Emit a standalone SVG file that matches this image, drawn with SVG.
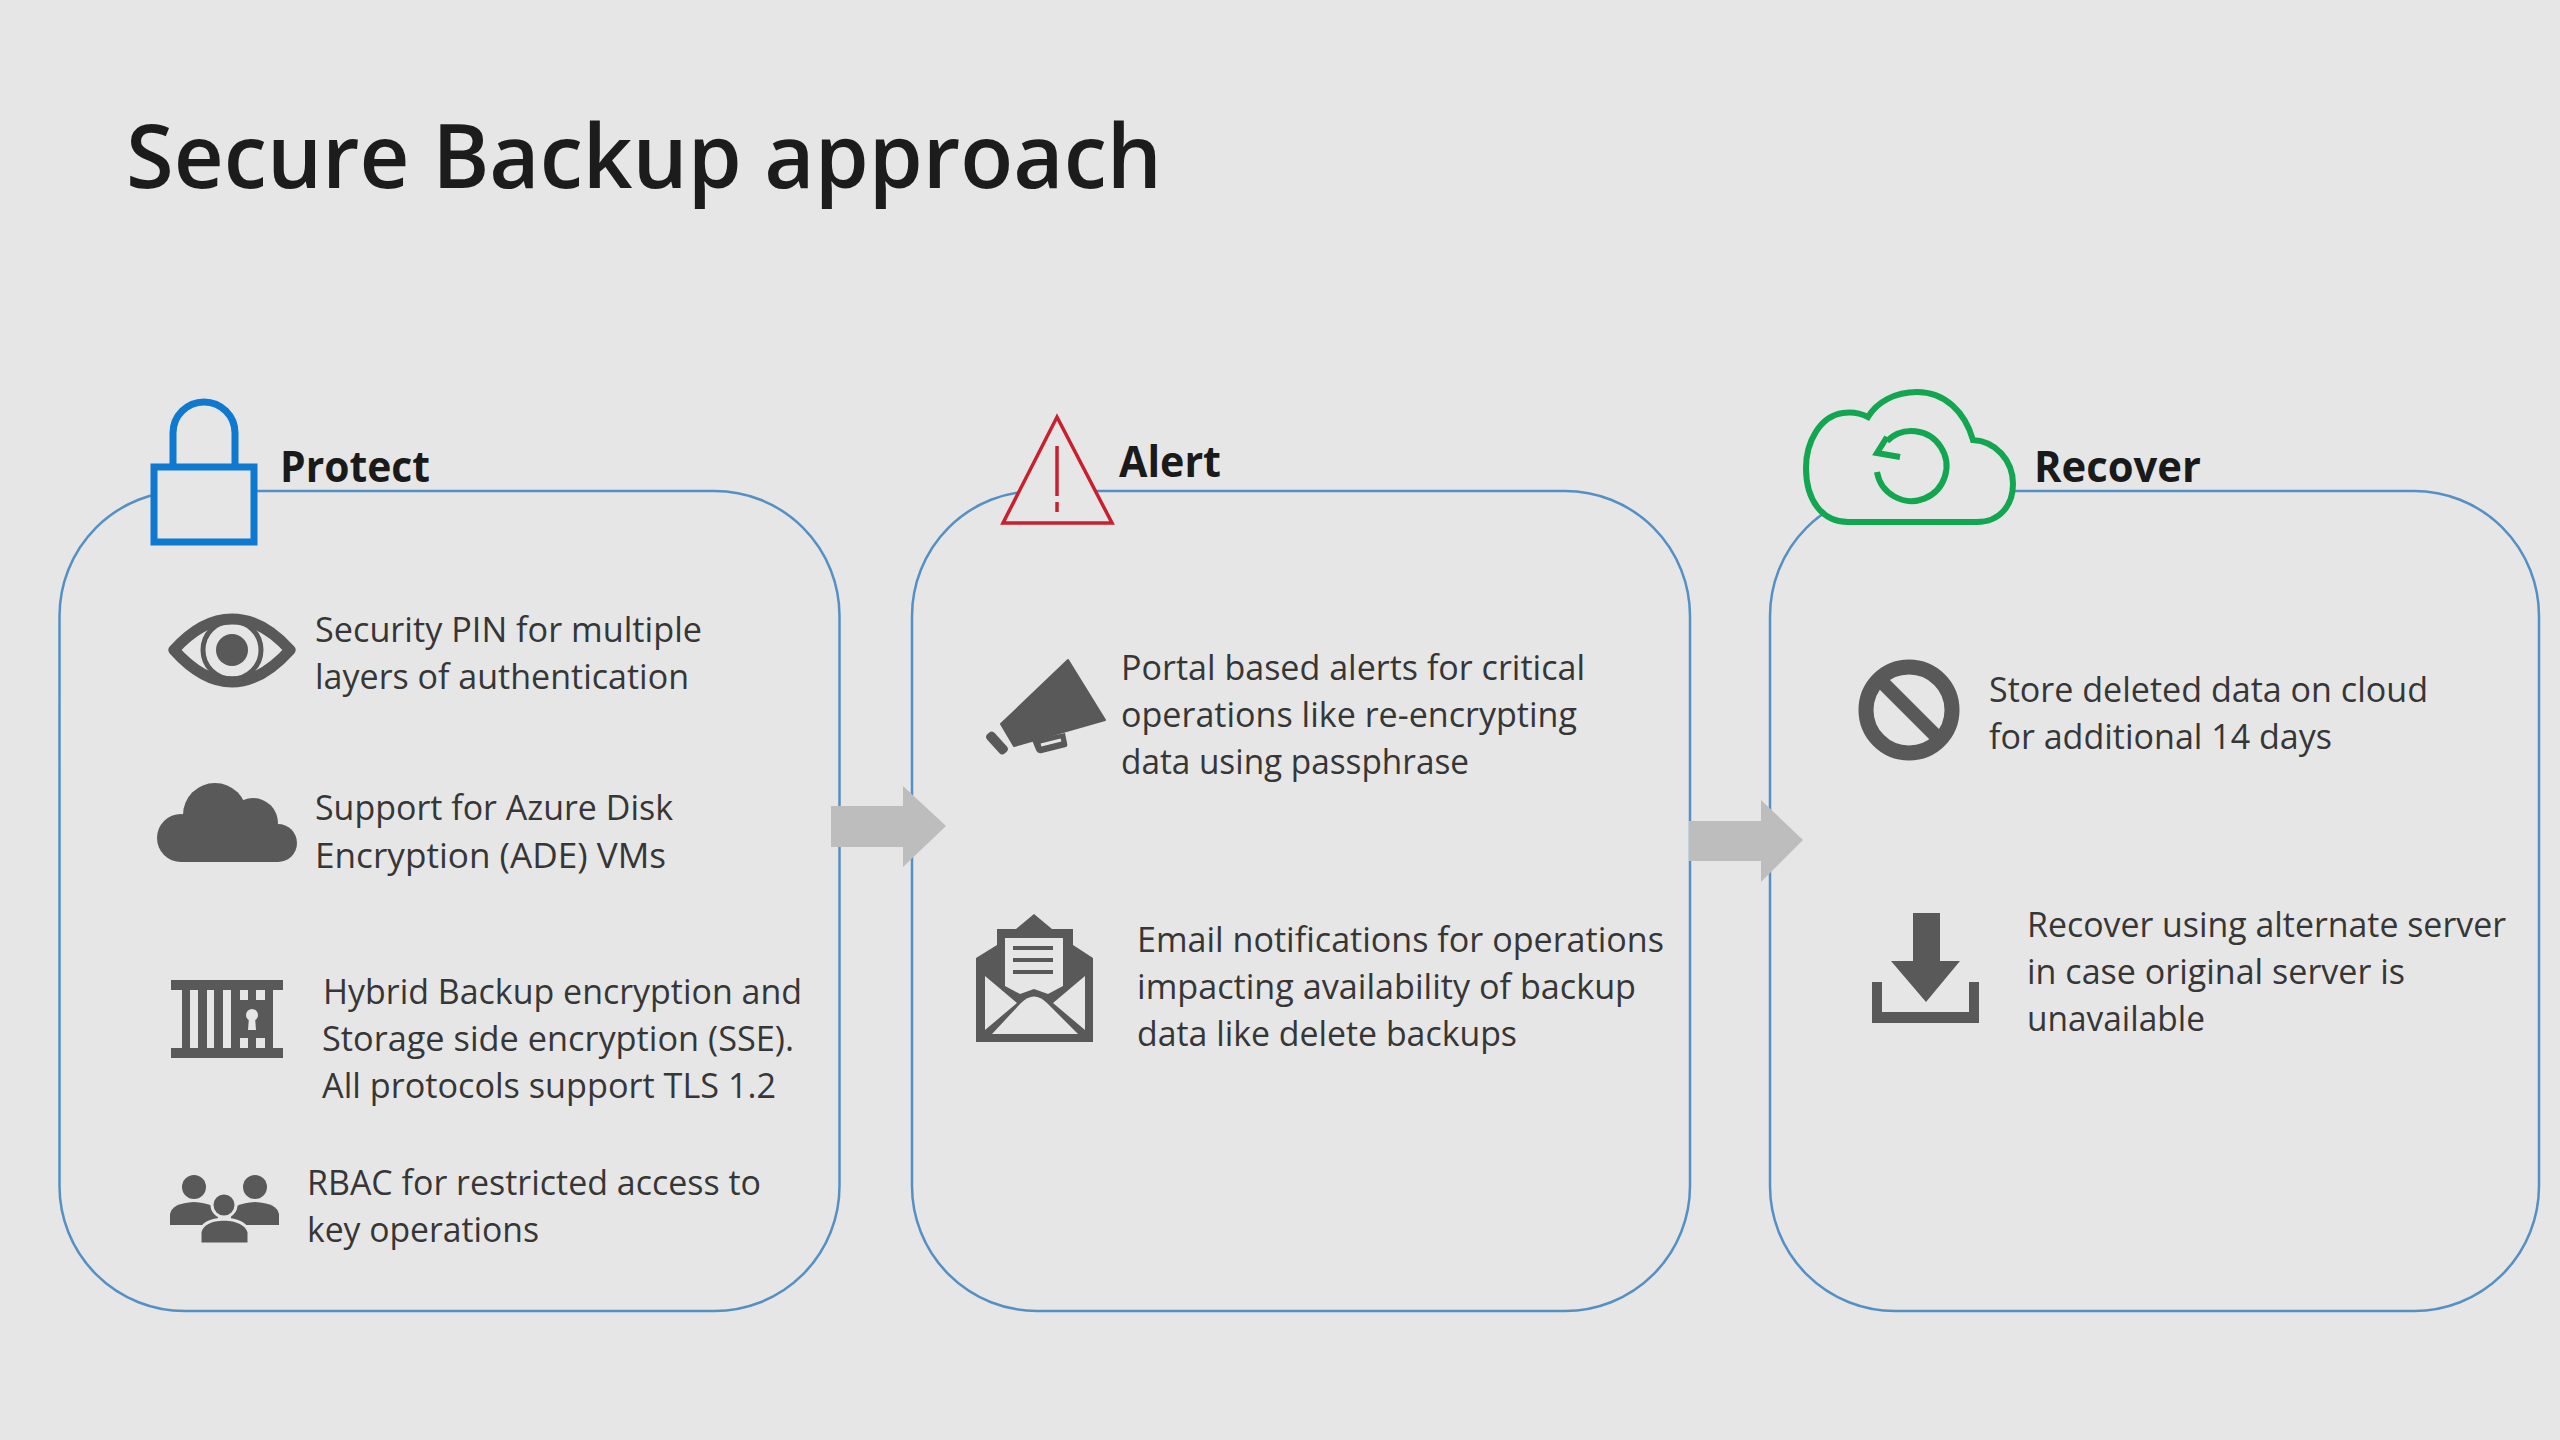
<svg xmlns="http://www.w3.org/2000/svg" width="2560" height="1440" viewBox="0 0 2560 1440">
<style>
.panel{fill:none;stroke:#5590c4;stroke-width:2.5}
.arrow{fill:#bdbdbd}
.t{font-family:"Open Sans","Noto Sans","Liberation Sans",sans-serif;font-size:35px;fill:#363636}
.h{font-family:"Open Sans","Noto Sans","Liberation Sans",sans-serif;font-size:43px;font-weight:700;fill:#1a1a1a}
.title{font-family:"Open Sans","Noto Sans","Liberation Sans",sans-serif;font-size:88px;font-weight:600;fill:#1c1c1c}
.ic{fill:#595959}
.bg{fill:#e6e6e6}
</style>
<rect width="2560" height="1440" fill="#e6e6e6"/>
<text class="title" x="126" y="188" textLength="1036" lengthAdjust="spacingAndGlyphs">Secure Backup approach</text>
<g id="panels">
<rect class="panel" x="59.500" y="491" width="780" height="820" rx="125" ry="125"/>
<rect class="panel" x="912" y="491" width="778" height="820" rx="125" ry="125"/>
<rect class="panel" x="1770" y="491" width="769" height="820" rx="125" ry="125"/>
</g>
<g id="connectors">
<polygon class="arrow" points="831,806 903,806 903,786 946,826 903,867 903,847 831,847"/>
<polygon class="arrow" points="1689,821 1761,821 1761,800 1803,840 1761,882 1761,861 1689,861"/>
</g>
<g id="protect">
<path d="M173 464V433a31 31 0 0 1 62 0V464" fill="none" stroke="#0f78cf" stroke-width="7"/>
<rect x="154" y="467" width="100" height="75" fill="#e6e6e6" stroke="#0f78cf" stroke-width="7"/>
<text class="h" x="280" y="482" textLength="150" lengthAdjust="spacingAndGlyphs">Protect</text>
</g>
<g id="pin">
<path d="M174 650C192 630 212 619 232 619C252 619 272 630 290 650C272 670 252 682 232 682C212 682 192 670 174 650Z" fill="#e6e6e6" stroke="#595959" stroke-width="11" stroke-linejoin="round"/>
<circle cx="232" cy="650" r="29" fill="none" stroke="#595959" stroke-width="5"/>
<circle class="ic" cx="232" cy="650" r="16"/>
<text class="t" x="315" y="642" textLength="387" lengthAdjust="spacingAndGlyphs">Security PIN for multiple</text>
<text class="t" x="315" y="689" textLength="374" lengthAdjust="spacingAndGlyphs">layers of authentication</text>
</g>
<g id="ade">
<circle class="ic" cx="181" cy="838" r="24"/><circle class="ic" cx="215" cy="815" r="32"/><circle class="ic" cx="253" cy="823" r="25"/><circle class="ic" cx="278" cy="843" r="19"/>
<rect class="ic" x="180" y="825" width="98" height="37"/>
<text class="t" x="315" y="820" textLength="358" lengthAdjust="spacingAndGlyphs">Support for Azure Disk</text>
<text class="t" x="315" y="868" textLength="351" lengthAdjust="spacingAndGlyphs">Encryption (ADE) VMs</text>
</g>
<g id="sse">
<rect class="ic" x="171" y="980" width="112" height="10"/><rect class="ic" x="171" y="1048" width="112" height="10"/>
<rect class="ic" x="182" y="988" width="91" height="62"/>
<g class="bg"><rect x="190" y="990" width="8" height="58"/><rect x="207" y="990" width="7" height="58"/><rect x="223" y="990" width="8" height="58"/>
<rect x="240" y="990" width="8" height="10"/><rect x="256" y="990" width="9" height="10"/><rect x="240" y="1038" width="8" height="10"/><rect x="256" y="1038" width="9" height="10"/>
<circle cx="252" cy="1015" r="6"/><polygon points="249,1017 255,1017 256,1030 248,1030"/></g>
<text class="t" x="323" y="1004" textLength="479" lengthAdjust="spacingAndGlyphs">Hybrid Backup encryption and</text>
<text class="t" x="322" y="1051" textLength="472" lengthAdjust="spacingAndGlyphs">Storage side encryption (SSE).</text>
<text class="t" x="322" y="1098" textLength="454" lengthAdjust="spacingAndGlyphs">All protocols support TLS 1.2</text>
</g>
<g id="rbac">
<circle class="ic" cx="194" cy="1187" r="12"/><circle class="ic" cx="255" cy="1187" r="12"/>
<path class="ic" d="M170 1225V1214Q172 1203 194 1202Q216 1203 218 1214V1225Z"/><path class="ic" d="M231 1225V1214Q233 1203 255 1202Q277 1203 279 1214V1225Z"/>
<circle class="ic" cx="224" cy="1205" r="12" stroke="#e6e6e6" stroke-width="3"/>
<path class="ic" d="M200 1244V1232Q203 1220 224 1219Q245 1220 249 1232V1244Z" stroke="#e6e6e6" stroke-width="3"/>
<text class="t" x="307" y="1195" textLength="454" lengthAdjust="spacingAndGlyphs">RBAC for restricted access to</text>
<text class="t" x="307" y="1242" textLength="232" lengthAdjust="spacingAndGlyphs">key operations</text>
</g>
<g id="alert">
<polygon points="1057,417 1112,523 1003,523" fill="#e6e6e6" stroke="#c8202e" stroke-width="3.500"/>
<line x1="1057" y1="446" x2="1057" y2="496" stroke="#c8202e" stroke-width="3.500"/>
<line x1="1057" y1="502" x2="1057" y2="512" stroke="#c8202e" stroke-width="3.500"/>
<text class="h" x="1119" y="477" textLength="102" lengthAdjust="spacingAndGlyphs">Alert</text>
</g>
<g id="portal">
<polygon class="ic" points="1068,660 1105,720 1014,746 1001,724" stroke="#595959" stroke-width="2" stroke-linejoin="round"/>
<path class="ic" d="M1032 740L1036 750Q1038 754 1042 753L1066 747Q1068 746 1067 743L1065 733Z"/>
<path d="M1041 745L1061 740" stroke="#e6e6e6" stroke-width="3"/>
<rect class="ic" x="-13" y="-5" width="26" height="10" rx="4" transform="translate(997 743) rotate(48)"/>
<text class="t" x="1121" y="680" textLength="464" lengthAdjust="spacingAndGlyphs">Portal based alerts for critical</text>
<text class="t" x="1121" y="727" textLength="456" lengthAdjust="spacingAndGlyphs">operations like re-encrypting</text>
<text class="t" x="1121" y="774" textLength="348" lengthAdjust="spacingAndGlyphs">data using passphrase</text>
</g>
<g id="email">
<polygon class="ic" points="1034,914 1052,929 1073,929 1073,945 1093,958 1093,1042 976,1042 976,958 997,945 997,929 1016,929"/>
<polygon class="bg" points="1005,938 1063,938 1063,986 1048,994 1034,989 1020,994 1005,986"/>
<g class="ic"><rect x="1013" y="946" width="40" height="4"/><rect x="1013" y="958" width="40" height="4"/><rect x="1013" y="970" width="40" height="4"/></g>
<g class="bg"><polygon points="985,976 985,1030 1017,1003"/><polygon points="1085,976 1085,1030 1053,1003"/>
<path d="M992 1034H1078L1047 1003Q1034 990 1021 1003Z"/></g>
<text class="t" x="1137" y="952" textLength="527" lengthAdjust="spacingAndGlyphs">Email notifications for operations</text>
<text class="t" x="1137" y="999" textLength="499" lengthAdjust="spacingAndGlyphs">impacting availability of backup</text>
<text class="t" x="1137" y="1046" textLength="380" lengthAdjust="spacingAndGlyphs">data like delete backups</text>
</g>
<g id="recover">
<path d="M1848 522H1977C2000 522 2013 505 2013 484C2013 460 1995 441 1973 440C1965 412 1945 392 1917 392C1895 392 1877 402 1868 417C1860 413 1850 412 1843 413C1820 416 1806 442 1806 468C1806 500 1822 522 1848 522Z" fill="#e6e6e6" stroke="#13a651" stroke-width="6"/>
<path d="M1877 472A35 35 0 1 0 1887 441M1887 437L1877 453L1900 457" fill="none" stroke="#13a651" stroke-width="6"/>
<text class="h" x="2034" y="482" textLength="167" lengthAdjust="spacingAndGlyphs">Recover</text>
</g>
<g id="store">
<circle cx="1909" cy="710" r="43" fill="none" stroke="#595959" stroke-width="15"/>
<line x1="1880" y1="680" x2="1939" y2="739" stroke="#595959" stroke-width="14"/>
<text class="t" x="1989" y="702" textLength="439" lengthAdjust="spacingAndGlyphs">Store deleted data on cloud</text>
<text class="t" x="1989" y="749" textLength="343" lengthAdjust="spacingAndGlyphs">for additional 14 days</text>
</g>
<g id="alternate">
<polygon class="ic" points="1913,913 1940,913 1940,961 1960,961 1926,1002 1891,961 1913,961"/>
<polygon class="ic" points="1872,982 1882,982 1882,1012 1969,1012 1969,982 1979,982 1979,1023 1872,1023"/>
<text class="t" x="2027" y="937" textLength="479" lengthAdjust="spacingAndGlyphs">Recover using alternate server</text>
<text class="t" x="2027" y="984" textLength="378" lengthAdjust="spacingAndGlyphs">in case original server is</text>
<text class="t" x="2027" y="1031" textLength="178" lengthAdjust="spacingAndGlyphs">unavailable</text>
</g>
</svg>
